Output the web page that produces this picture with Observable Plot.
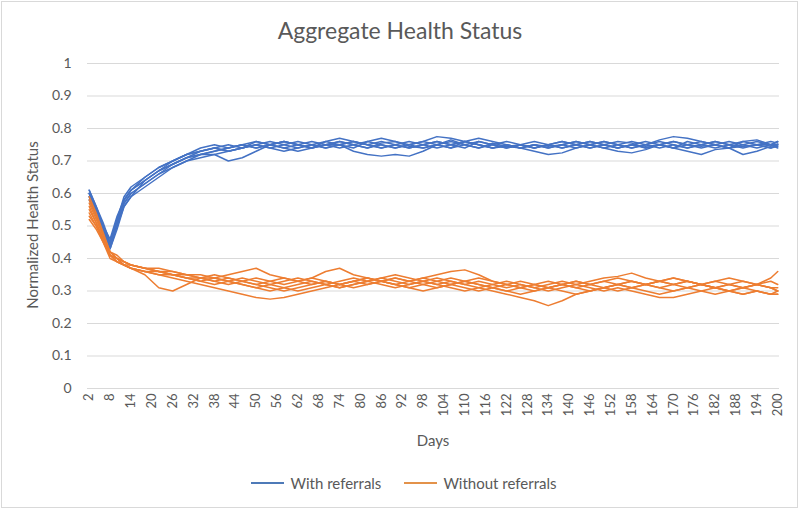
<!DOCTYPE html>
<html><head><meta charset="utf-8">
<script src="https://cdn.jsdelivr.net/npm/d3@7"></script>
<script src="https://cdn.jsdelivr.net/npm/@observablehq/plot@0.6"></script>
<style>
html,body{margin:0;padding:0;background:#fff;}
#wrap{position:relative;width:800px;height:509px;overflow:hidden;font-family:Lato,"Open Sans",sans-serif;color:#595959;background:#fff;}
#border{position:absolute;left:1px;top:1px;width:795px;height:505px;border:1px solid #d9d9d9;pointer-events:none;}
#title{position:absolute;left:0;width:800px;top:14px;text-align:center;font-size:23px;line-height:32px;}
#chart{position:absolute;left:0;top:0;}
#ylab{position:absolute;left:32px;top:225px;transform:translate(-50%,-50%) rotate(-90deg);white-space:nowrap;font-size:15px;line-height:18px;}
#xlab{position:absolute;left:433px;top:440px;transform:translate(-50%,-50%);font-size:15px;line-height:18px;}
#legend{position:absolute;left:4px;top:472px;width:800px;display:flex;justify-content:center;align-items:center;font-size:15px;line-height:22px;}
.item{display:flex;align-items:center;}
.sw{display:inline-block;width:33px;height:0;border-top:2px solid;margin-right:6px;}
</style></head>
<body><div id="wrap"><div id="title">Aggregate Health Status</div><div id="chart"></div>
<div id="ylab">Normalized Health Status</div><div id="xlab">Days</div>
<div id="legend"><span class="item"><span class="sw" style="border-color:#4e7ab8"></span>With referrals</span><span class="item" style="margin-left:23px"><span class="sw" style="border-color:#e3924a"></span>Without referrals</span></div>
<div id="border"></div></div>
<script>
// sampled days (x categories)
const days = [2,4,6,8,10,12,14,18,22,26,30,34,38,42,46,50,54,58,62,66,70,74,78,82,86,90,94,98,102,106,110,114,118,122,126,130,134,138,142,146,150,154,158,162,166,170,174,178,182,186,190,194,198,200];
const xTicks = [2,8,14,20,26,32,38,44,50,56,62,68,74,80,86,92,98,104,110,116,122,128,134,140,146,152,158,164,170,176,182,188,194,200];
const yTicks = [0,0.1,0.2,0.3,0.4,0.5,0.6,0.7,0.8,0.9,1];
const seriesNames = ["With referrals","Without referrals"];
const seriesColors = ["#4472C4","#ED7D31"];

// runs with referrals
const withReferrals = [
 [.61,.56,.50,.44,.50,.57,.60, .63,.66,.68,.70,.72,.72,.70,.71,.73,.75,.76,.75,.74,.75,.76,.75,.74,.755,.76,.745,.74,.75,.765,.75,.74,.755,.745,.75,.74,.75,.76,.75,.74,.75,.76,.755,.74,.75,.76,.75,.745,.75,.76,.75,.74,.75,.75],
 [.60,.55,.49,.43,.50,.56,.59, .64,.67,.69,.71,.73,.74,.73,.74,.75,.74,.75,.76,.75,.74,.75,.73,.72,.715,.72,.715,.73,.75,.76,.75,.74,.75,.76,.75,.74,.75,.74,.75,.76,.75,.74,.75,.745,.75,.74,.75,.76,.75,.74,.745,.75,.76,.755],
 [.59,.54,.49,.45,.52,.58,.61, .65,.68,.70,.72,.73,.74,.75,.74,.75,.76,.75,.74,.75,.76,.75,.76,.75,.74,.75,.76,.75,.74,.75,.76,.75,.74,.745,.74,.73,.72,.725,.74,.75,.76,.75,.74,.75,.76,.75,.74,.75,.76,.75,.745,.75,.74,.745],
 [.60,.55,.50,.46,.53,.58,.61, .64,.67,.69,.71,.72,.73,.74,.75,.74,.75,.76,.75,.76,.75,.74,.75,.76,.75,.74,.75,.76,.775,.77,.76,.75,.74,.75,.74,.75,.745,.75,.76,.75,.74,.73,.725,.735,.75,.76,.75,.74,.75,.74,.75,.76,.75,.76],
 [.58,.53,.48,.44,.51,.57,.60, .63,.66,.69,.71,.72,.73,.74,.75,.76,.75,.74,.75,.74,.76,.77,.76,.75,.74,.75,.74,.75,.76,.75,.74,.76,.75,.74,.75,.76,.75,.74,.75,.76,.75,.74,.75,.76,.75,.74,.73,.72,.735,.74,.72,.73,.745,.75],
 [.61,.56,.51,.45,.52,.59,.62, .65,.68,.70,.72,.74,.75,.74,.75,.74,.75,.76,.75,.74,.75,.75,.76,.75,.76,.75,.74,.75,.76,.75,.76,.75,.74,.75,.74,.75,.74,.75,.76,.75,.76,.75,.74,.75,.765,.775,.77,.76,.75,.74,.76,.765,.75,.74],
 [.59,.54,.49,.43,.49,.56,.59, .62,.65,.68,.70,.71,.72,.73,.74,.75,.74,.73,.74,.75,.74,.75,.74,.76,.77,.76,.75,.74,.75,.74,.76,.77,.76,.75,.74,.75,.74,.75,.74,.75,.74,.75,.76,.75,.74,.75,.74,.75,.76,.75,.76,.75,.74,.75],
 [.60,.55,.50,.44,.51,.58,.61, .64,.67,.70,.72,.73,.74,.73,.74,.76,.75,.74,.73,.74,.75,.76,.75,.74,.75,.74,.75,.76,.75,.74,.75,.76,.75,.74,.75,.74,.75,.76,.75,.74,.75,.74,.75,.74,.75,.74,.76,.75,.74,.75,.74,.75,.75,.76]
];
// runs without referrals
const withoutReferrals = [
 [.52,.49,.45,.41,.40,.38,.37, .35,.31,.30,.32,.34,.35,.34,.33,.34,.33,.32,.33,.34,.33,.32,.33,.34,.33,.32,.31,.32,.33,.34,.33,.32,.31,.32,.31,.30,.31,.32,.31,.30,.31,.32,.33,.32,.31,.32,.33,.32,.31,.30,.31,.32,.31,.30],
 [.55,.51,.46,.41,.39,.38,.37, .36,.35,.34,.33,.32,.31,.30,.29,.28,.275,.28,.29,.30,.31,.32,.31,.32,.33,.32,.31,.30,.31,.32,.33,.32,.31,.30,.29,.30,.31,.30,.29,.30,.31,.32,.31,.30,.29,.30,.31,.30,.29,.30,.29,.30,.29,.29],
 [.58,.53,.47,.42,.40,.39,.38, .37,.36,.36,.35,.35,.34,.35,.36,.37,.35,.34,.33,.34,.36,.37,.35,.34,.33,.34,.33,.34,.33,.32,.33,.34,.33,.32,.33,.32,.31,.32,.33,.32,.33,.34,.33,.32,.33,.34,.33,.32,.33,.32,.31,.32,.33,.32],
 [.56,.51,.46,.41,.40,.38,.38, .37,.36,.35,.35,.34,.33,.34,.33,.32,.33,.34,.33,.32,.33,.32,.33,.34,.33,.32,.33,.34,.35,.36,.365,.35,.33,.32,.31,.32,.33,.32,.31,.32,.33,.32,.31,.32,.33,.34,.33,.32,.31,.32,.33,.32,.31,.31],
 [.54,.50,.45,.40,.39,.38,.37, .36,.36,.35,.34,.33,.34,.33,.32,.31,.30,.31,.32,.33,.32,.31,.32,.33,.34,.33,.32,.33,.34,.33,.32,.31,.30,.29,.28,.27,.255,.27,.29,.30,.31,.30,.31,.32,.31,.30,.31,.32,.31,.30,.31,.30,.29,.30],
 [.57,.52,.47,.42,.40,.39,.38, .37,.37,.36,.35,.34,.34,.33,.34,.33,.32,.33,.34,.33,.32,.33,.34,.33,.34,.35,.34,.33,.32,.33,.32,.33,.32,.31,.32,.31,.32,.33,.32,.33,.34,.345,.355,.34,.33,.32,.33,.32,.31,.32,.31,.32,.31,.30],
 [.59,.54,.48,.42,.41,.39,.38, .37,.36,.35,.34,.34,.33,.32,.33,.32,.31,.30,.31,.32,.33,.32,.33,.32,.33,.34,.33,.32,.31,.32,.31,.30,.31,.30,.31,.32,.31,.32,.33,.32,.31,.32,.33,.32,.33,.32,.31,.32,.33,.34,.33,.32,.34,.36],
 [.53,.50,.46,.41,.39,.38,.37, .36,.35,.35,.34,.33,.32,.33,.32,.31,.32,.31,.30,.31,.32,.31,.32,.33,.32,.31,.32,.33,.32,.31,.30,.31,.32,.33,.32,.31,.30,.31,.32,.31,.30,.31,.30,.29,.28,.28,.29,.30,.31,.30,.29,.30,.29,.29]
];

const rows = [];
[withReferrals, withoutReferrals].forEach((runs, s) => {
  runs.forEach((vals, r) => {
    vals.forEach((v, i) => {
      if (i < days.length) rows.push({day: days[i], value: v, series: seriesNames[s], run: seriesNames[s] + " " + r});
    });
  });
});

const chart = Plot.plot({
  width: 800,
  height: 460,
  marginTop: 63,
  marginBottom: 72,
  marginLeft: 87,
  marginRight: 21,
  style: {fontFamily: "Lato, 'Open Sans', sans-serif", color: "#595959", background: "transparent", fontSize: "14px"},
  x: {domain: [1.5, 200.5]},
  y: {domain: [0, 1]},
  color: {domain: seriesNames, range: seriesColors},
  marks: [
    Plot.gridY(yTicks, {stroke: "#d9d9d9", strokeOpacity: 1, strokeWidth: 1}),
    Plot.axisY(yTicks, {tickSize: 0, tickPadding: 16, tickFormat: d => String(d), label: null, fontSize: 14}),
    Plot.axisX(xTicks, {tickSize: 0, tickPadding: 5, tickRotate: -90, label: null, fontSize: 13}),
    Plot.line(rows, {x: "day", y: "value", z: "run", stroke: "series", strokeWidth: 1.5, strokeLinejoin: "round"})
  ]
});
document.getElementById("chart").appendChild(chart);
</script>
</body></html>
